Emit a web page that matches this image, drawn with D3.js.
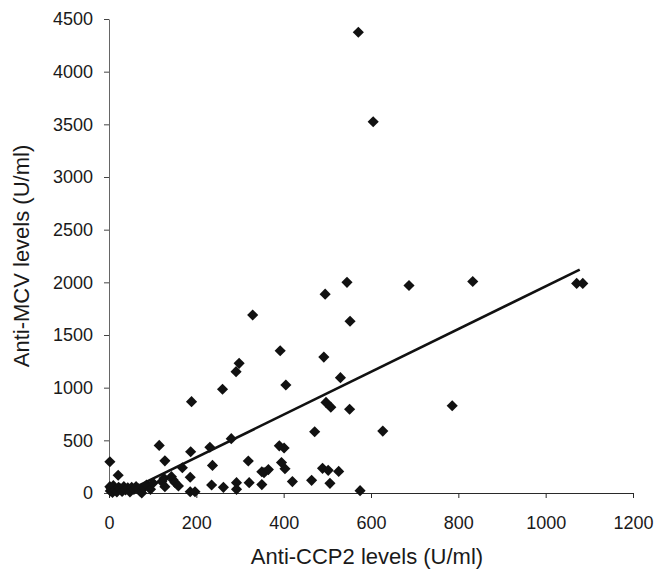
<!DOCTYPE html>
<html>
<head>
<meta charset="utf-8">
<script src="https://cdn.jsdelivr.net/npm/d3@7"></script>
<style>
  body { margin: 0; background: #fff; }
  text { font-family: "Liberation Sans", Arial, sans-serif; fill: #1a1a1a; }
</style>
</head>
<body>
<div id="chart"></div>
<script>
// anti-CCP2 (x) and anti-MCV (y) per patient
const ccp2 = [2, 3, 5, 8, 10, 14, 18, 22, 26, 30, 34, 38, 43, 48, 52, 57, 62, 68, 72, 75, 80, 86, 95, 101,
  2, 21, 115, 128, 121, 126, 128, 143, 147, 151, 159, 168, 186, 187, 189, 186, 197,
  231, 237, 235, 262, 260, 280, 292, 292, 298, 291, 319, 321, 329, 350, 355, 365, 350,
  392, 390, 401, 395, 403, 405, 420, 464, 471, 489, 502, 526, 506, 492, 495, 497, 508,
  530, 545, 551, 552, 571, 575, 605, 627, 687, 786, 833, 1071, 1085]
const mcv = [60, 20, 40, 5, 70, 30, 10, 55, 40, 15, 60, 30, 50, 10, 55, 35, 60, 40, 15, 0, 50, 76, 35, 95,
  297, 168, 452, 305, 108, 140, 60, 155, 123, 100, 66, 240, 149, 392, 867, 12, 12,
  434, 262, 76, 54, 985, 516, 98, 35, 1231, 1152, 304, 98, 1690, 202, 193, 222, 80,
  1350, 448, 427, 290, 230, 1025, 108, 120, 582, 234, 215, 205, 92, 1290, 1888, 860, 815,
  1095, 2000, 795, 1630, 4374, 22, 3525, 588, 1970, 828, 2008, 1990, 1990]

// fitted line, as drawn
const trendSlope = 2.03
const trendIntercept = -68
const trendRange = [70, 1078]

const xTicks = [0, 200, 400, 600, 800, 1000, 1200]
const yTicks = [0, 500, 1000, 1500, 2000, 2500, 3000, 3500, 4000, 4500]

const width = 655, height = 572
const plotLeft = 109, plotRight = 633, plotTop = 19, plotBottom = 493

const svg = d3.select('#chart')
  .append('svg')
  .attr('width', width)
  .attr('height', height)

const xScale = d3.scaleLinear().domain([0, 1200]).range([plotLeft, plotRight])
const yScale = d3.scaleLinear().domain([0, 4500]).range([plotBottom, plotTop])

function drawAxes() {
  const xAxis = d3.axisBottom(xScale).tickValues(xTicks).tickFormat(d3.format('d'))
    .tickSizeInner(5).tickSizeOuter(0).tickPadding(18)
  const gx = svg.append('g').attr('transform', `translate(0, ${plotBottom})`).call(xAxis)
  gx.select('.domain').attr('stroke', '#2a2a2a').attr('stroke-width', 1.2)
  gx.selectAll('.tick line').attr('stroke', '#2a2a2a')
  gx.selectAll('.tick text').style('font-size', '18px').attr('fill', '#1a1a1a')

  const yAxis = d3.axisLeft(yScale).tickValues(yTicks).tickFormat(d3.format('d'))
    .tickSizeInner(5).tickSizeOuter(0).tickPadding(11)
  const gy = svg.append('g').attr('transform', `translate(${plotLeft}, 0)`).call(yAxis)
  gy.select('.domain').attr('stroke', '#666').attr('stroke-width', 1)
  gy.selectAll('.tick line').attr('stroke', '#444')
  gy.selectAll('.tick text').style('font-size', '18px').attr('fill', '#1a1a1a')

  // axis titles
  svg.append('text')
    .attr('x', (plotLeft + plotRight) / 2 - 4)
    .attr('y', 564)
    .attr('text-anchor', 'middle')
    .style('font-size', '22px')
    .text('Anti-CCP2 levels (U/ml)')

  svg.append('text')
    .attr('transform', `translate(29, ${(plotTop + plotBottom) / 2}) rotate(-90)`)
    .attr('text-anchor', 'middle')
    .style('font-size', '22px')
    .text('Anti-MCV levels (U/ml)')
}

function drawTrend() {
  const line = d3.line()
    .x(d => xScale(d))
    .y(d => yScale(trendSlope * d + trendIntercept))
  svg.append('path')
    .attr('d', line(trendRange))
    .attr('fill', 'none')
    .attr('stroke', '#111')
    .attr('stroke-width', 2.6)
}

function drawPoints() {
  const diamond = d3.symbol(d3.symbolSquare, 62)
  svg.append('g')
    .selectAll('path')
    .data(ccp2.map((x, i) => ({ x, y: mcv[i] })))
    .enter()
    .append('path')
    .attr('d', diamond)
    .attr('transform', d => `translate(${xScale(d.x)}, ${yScale(d.y)}) rotate(45)`)
    .attr('fill', '#111')
}

drawAxes()
drawTrend()
drawPoints()
</script>
</body>
</html>
